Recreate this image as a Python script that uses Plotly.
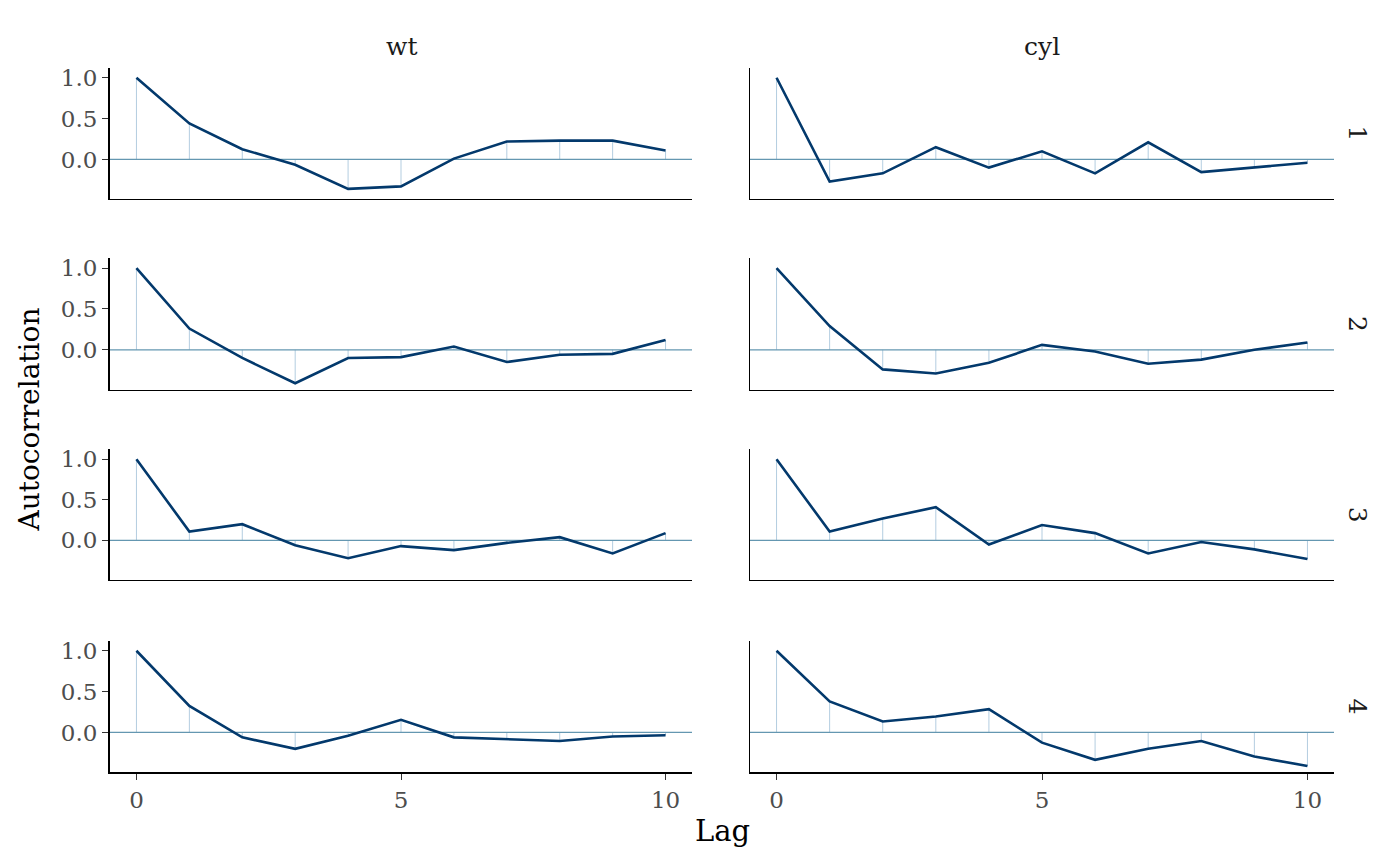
import plotly.graph_objects as go

# lags and autocorrelations (chains 1-4, parameters wt and cyl)
lags = [0, 1, 2, 3, 4, 5, 6, 7, 8, 9, 10]
params = ["wt", "cyl"]
chains = ["1", "2", "3", "4"]

wt_1 = [1.0, 0.44, 0.125, -0.065, -0.36, -0.33, 0.01, 0.22, 0.23, 0.23, 0.11]
wt_2 = [1.0, 0.26, -0.10, -0.41, -0.10, -0.09, 0.04, -0.15, -0.06, -0.05, 0.12]
wt_3 = [1.0, 0.11, 0.20, -0.06, -0.22, -0.07, -0.12, -0.03, 0.04, -0.16, 0.09]
wt_4 = [1.0, 0.325, -0.06, -0.20, -0.04, 0.155, -0.06, -0.08, -0.105, -0.05, -0.035]

cyl_1 = [1.0, -0.27, -0.17, 0.15, -0.10, 0.10, -0.17, 0.21, -0.155, -0.10, -0.04]
cyl_2 = [1.0, 0.29, -0.24, -0.29, -0.16, 0.06, -0.02, -0.17, -0.12, 0.0, 0.09]
cyl_3 = [1.0, 0.11, 0.27, 0.41, -0.05, 0.19, 0.09, -0.16, -0.02, -0.11, -0.23]
cyl_4 = [1.0, 0.38, 0.135, 0.195, 0.285, -0.125, -0.335, -0.20, -0.105, -0.295, -0.41]

acf = {
    ("wt", "1"): wt_1, ("wt", "2"): wt_2, ("wt", "3"): wt_3, ("wt", "4"): wt_4,
    ("cyl", "1"): cyl_1, ("cyl", "2"): cyl_2, ("cyl", "3"): cyl_3, ("cyl", "4"): cyl_4,
}

W, H = 1400, 866
DARK = "#03396c"
MID = "#6497b1"
LIGHT = "#b3cde0"
FONT = "DejaVu Serif"

# panel pixel boxes (left, right) and (top, bottom)
col_px = [(110, 692), (750, 1334)]
row_px = [(65, 197), (256, 388), (448, 579), (640, 772)]

fig = go.Figure()
layout = {}

for r, chain in enumerate(chains):
    for c, p in enumerate(params):
        k = r * 2 + c + 1
        ax = "" if k == 1 else str(k)
        vals = acf[(p, chain)]

        # thin vertical segments from zero to each value
        sx, sy = [], []
        for lag, v in zip(lags, vals):
            sx += [lag, lag, None]
            sy += [0, v, None]
        fig.add_trace(go.Scatter(x=sx, y=sy, mode="lines", line=dict(color=LIGHT, width=1),
                                 xaxis="x" + ax, yaxis="y" + ax, showlegend=False, hoverinfo="skip"))
        # zero line
        fig.add_trace(go.Scatter(x=[-0.5, 10.5], y=[0, 0], mode="lines", line=dict(color=MID, width=1.3),
                                 xaxis="x" + ax, yaxis="y" + ax, showlegend=False, hoverinfo="skip"))
        # acf line
        fig.add_trace(go.Scatter(x=lags, y=vals, mode="lines", line=dict(color=DARK, width=2.6),
                                 xaxis="x" + ax, yaxis="y" + ax, showlegend=False))

        left, right = col_px[c]
        top, bottom = row_px[r]
        bottom_row = r == len(chains) - 1
        left_col = c == 0

        layout["xaxis" + ax] = dict(
            domain=[left / W, right / W], range=[-0.5, 10.5], anchor="y" + ax,
            showgrid=False, zeroline=False, showline=True,
            linecolor="black", linewidth=2 if bottom_row else 1,
            ticks="outside" if bottom_row else "", ticklen=6, tickwidth=1.3, tickcolor="#333333",
            tickvals=[0, 5, 10], showticklabels=bottom_row,
            tickfont=dict(family=FONT, size=23, color="#4d4d4d"),
        )
        layout["yaxis" + ax] = dict(
            domain=[1 - bottom / H, 1 - top / H], range=[-0.488, 1.122], anchor="x" + ax,
            showgrid=False, zeroline=False, showline=True,
            linecolor="black", linewidth=2 if left_col else 1,
            ticks="outside" if left_col else "", ticklen=6, tickwidth=1.3, tickcolor="#333333",
            tickvals=[0, 0.5, 1.0], tickformat=".1f", showticklabels=left_col,
            tickfont=dict(family=FONT, size=23, color="#4d4d4d"),
        )

annotations = []
# facet column strips
for c, p in enumerate(params):
    left, right = col_px[c]
    annotations.append(dict(text=p, x=(left + right) / 2 / W, y=1 - 44 / H, xref="paper", yref="paper",
                            xanchor="center", yanchor="middle", showarrow=False,
                            font=dict(family=FONT, size=25, color="#1a1a1a")))
# facet row strips
for r, chain in enumerate(chains):
    top, bottom = row_px[r]
    annotations.append(dict(text=chain, x=1357 / W, y=1 - (top + bottom) / 2 / H, xref="paper", yref="paper",
                            xanchor="center", yanchor="middle", showarrow=False, textangle=90,
                            font=dict(family=FONT, size=25, color="#1a1a1a")))
# axis titles
annotations.append(dict(text="Lag", x=722 / W, y=1 - 831 / H, xref="paper", yref="paper",
                        xanchor="center", yanchor="middle", showarrow=False,
                        font=dict(family=FONT, size=29, color="black")))
annotations.append(dict(text="Autocorrelation", x=30 / W, y=1 - 418 / H, xref="paper", yref="paper",
                        xanchor="center", yanchor="middle", showarrow=False, textangle=-90,
                        font=dict(family=FONT, size=28, color="black")))

fig.update_layout(
    width=W, height=H,
    margin=dict(l=0, r=0, t=0, b=0),
    plot_bgcolor="white", paper_bgcolor="white",
    annotations=annotations,
    **layout,
)

fig.write_html("out.html", config={"displayModeBar": False},
               post_script="document.body.style.margin='0';")
